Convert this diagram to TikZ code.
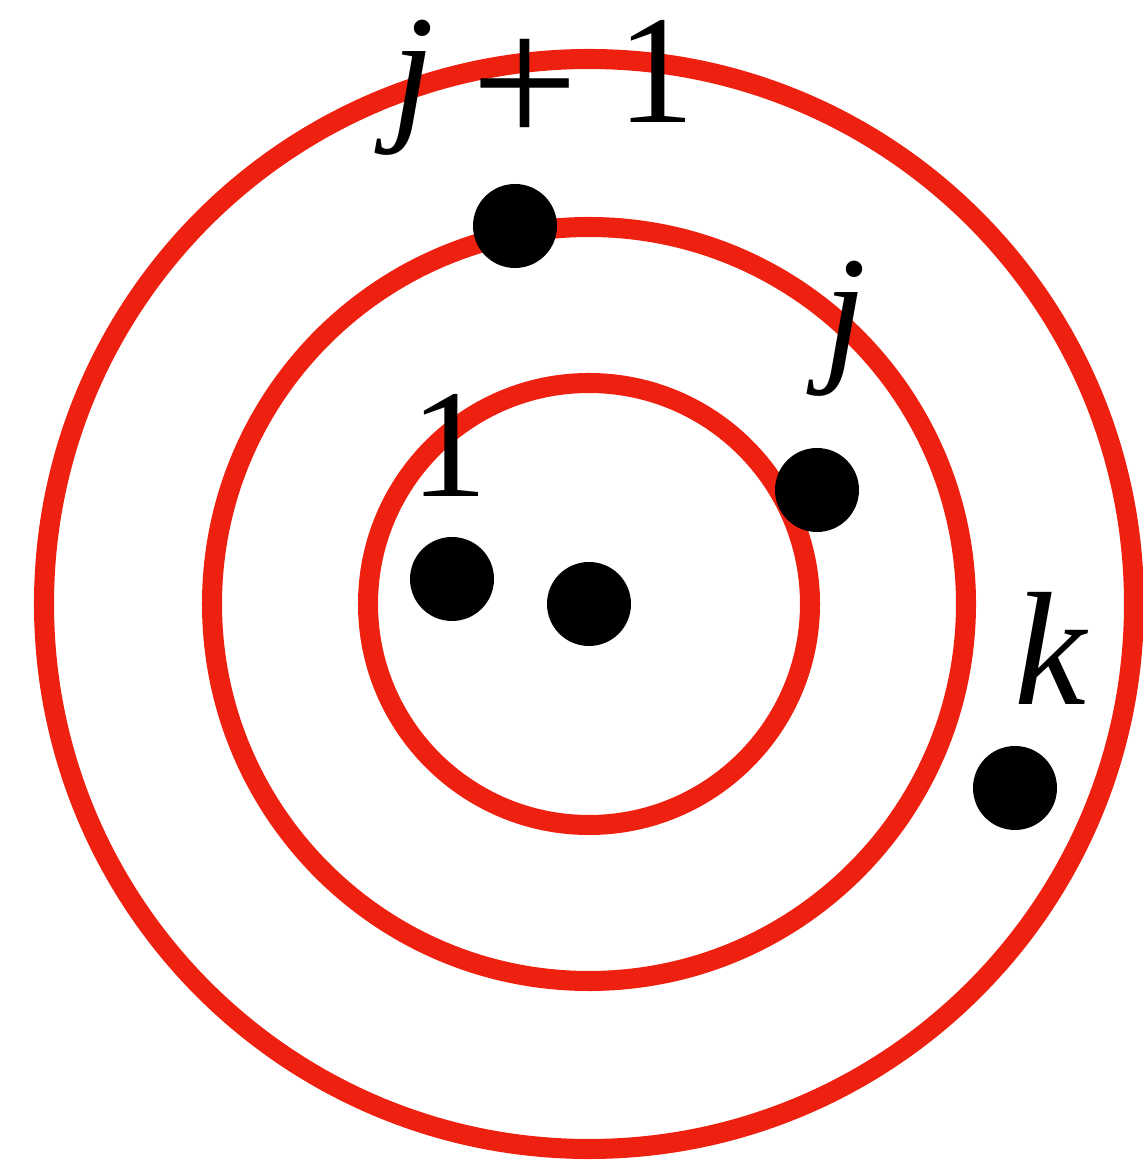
\documentclass[tikz,border=0pt]{standalone}
\usepackage{fontspec}
\setmainfont{Liberation Serif}
\definecolor{ringred}{RGB}{238,32,16}
\tikzset{
  ring/.style={draw=ringred, line width=5.7pt},
  dot/.style={circle, fill=black, inner sep=0pt, minimum size=0.84cm},
  lbl/.style={anchor=base, inner sep=0pt, font=\fontsize{44}{52}\selectfont}
}
\begin{document}
\begin{tikzpicture}
\useasboundingbox (0,0) rectangle (11.43,11.63);
\coordinate (c) at (5.89,5.59);
\draw[ring] (c) circle (5.45);
\draw[ring] (c) circle (3.77);
\draw[ring] (c) circle (2.21);
\node[dot] (d1) at (5.15,9.37) {};
\node[dot] (d2) at (8.17,6.73) {};
\node[dot] (d3) at (4.52,5.84) {};
\node[dot] (d4) at (5.89,5.59) {};
\node[dot] (d5) at (10.15,3.75) {};
\node[lbl] (l1) at (5.43,10.40) {\itshape j\upshape\hspace{0.37cm}\raisebox{-0.24cm}{\fontsize{54}{54}\selectfont +}\hspace{0.39cm}1};
\node[lbl] (l2) at (8.45,7.99) {\itshape j};
\node[lbl] (l3) at (4.49,6.66) {1};
\node[lbl] (l4) at (10.50,4.58) {\fontsize{46}{52}\selectfont\itshape k};
\end{tikzpicture}
\end{document}
